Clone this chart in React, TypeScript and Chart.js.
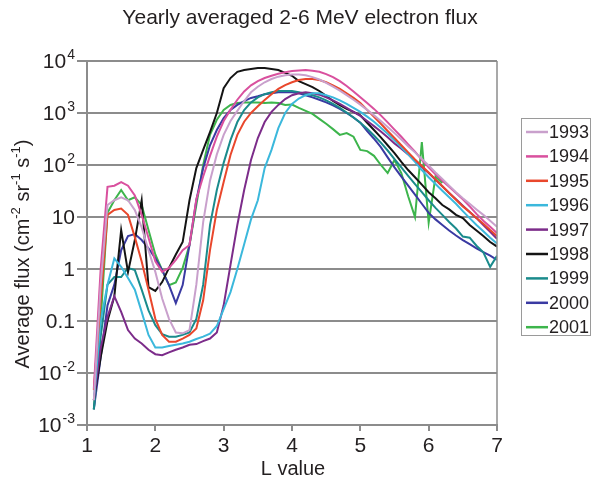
import React, { useEffect, useRef } from "react";
import { Chart, registerables } from "chart.js";

Chart.register(...registerables);

const TITLE = "Yearly averaged 2-6 MeV electron flux";
const X_TITLE = "L value";

const L_VALUES = [
  1.1, 1.2, 1.3, 1.4, 1.5, 1.6, 1.7, 1.8, 1.9, 2.0,
  2.1, 2.2, 2.3, 2.4, 2.5, 2.6, 2.7, 2.8, 2.9, 3.0,
  3.1, 3.2, 3.3, 3.4, 3.5, 3.6, 3.7, 3.8, 3.9, 4.0,
  4.1, 4.2, 4.3, 4.4, 4.5, 4.6, 4.7, 4.8, 4.9, 5.0,
  5.1, 5.2, 5.3, 5.4, 5.5, 5.6, 5.7, 5.8, 5.9, 6.0,
  6.1, 6.2, 6.3, 6.4, 6.5, 6.6, 6.7, 6.8, 6.9, 7.0,
];

const YEARS = ["1993", "1994", "1995", "1996", "1997", "1998", "1999", "2000", "2001"];
const COLORS = ["#c9a0cc", "#d9509e", "#e9472c", "#3bb8dc", "#7c2c8a", "#141414", "#1a8b8c", "#3a3aa2", "#3db54c"];

const FLUX_1993 = [
  0.003, 0.5, 17, 21, 24, 21, 13.6, 6.3, 2.3, 0.88,
  0.27, 0.11, 0.06, 0.058, 0.067, 0.5, 8, 50, 160, 380,
  700, 1100, 1700, 2500, 3200, 3900, 4500, 5000, 5300, 5500,
  5500, 5300, 4900, 4400, 3800, 3200, 2700, 2200, 1800, 1450,
  1150, 900, 700, 540, 410, 310, 230, 175, 130, 98,
  72, 54, 40, 30, 23, 18, 14, 11, 8.5, 6.5,
];
const FLUX_1994 = [
  0.005, 1.0, 38, 40, 47, 40, 26, 11, 4, 1.4,
  0.88, 1.05, 1.5, 2.3, 2.9, 22, 60, 150, 350, 700,
  1150, 1800, 2600, 3400, 4100, 4700, 5200, 5700, 6100, 6400,
  6600, 6700, 6500, 6200, 5600, 4900, 4100, 3300, 2600, 2000,
  1550, 1200, 900, 660, 480, 350, 250, 180, 125, 90,
  66, 50, 38, 29, 22, 16, 11.5, 8.5, 6.5, 4.9,
];
const FLUX_1995 = [
  0.0047, 0.25, 11, 13.6, 14.5, 11, 4.1, 1.4, 0.4, 0.11,
  0.054, 0.04, 0.04, 0.046, 0.054, 0.072, 0.25, 2.3, 13.6, 47,
  156, 380, 680, 1000, 1350, 1780, 2300, 2900, 3450, 3900,
  4300, 4500, 4500, 4300, 3900, 3400, 2900, 2400, 1950, 1550,
  1150, 850, 620, 450, 330, 240, 175, 128, 96, 72,
  53, 39, 29, 21.5, 16, 12.5, 9.6, 7.4, 5.6, 4.3,
];
const FLUX_1996 = [
  0.003, 0.1, 0.5, 1.6, 1.1, 0.67, 0.4, 0.15, 0.054, 0.031,
  0.031, 0.033, 0.035, 0.037, 0.04, 0.045, 0.05, 0.057, 0.08, 0.17,
  0.36, 1.0, 3.0, 9, 21, 87, 195, 510, 1000, 1500,
  1900, 2200, 2400, 2400, 2200, 2000, 1750, 1500, 1250, 1050,
  850, 680, 520, 400, 300, 220, 160, 115, 80, 58,
  43, 32, 24, 18, 13, 9.5, 7, 5.3, 4, 3.1,
];
const FLUX_1997 = [
  0.003, 0.03, 0.12, 0.3, 0.15, 0.067, 0.046, 0.037, 0.028, 0.023,
  0.022, 0.025, 0.028, 0.031, 0.035, 0.036, 0.041, 0.046, 0.06, 0.2,
  1.2, 7, 33, 125, 330, 670, 1050, 1430, 1850, 2200,
  2400, 2500, 2400, 2250, 2000, 1750, 1500, 1250, 1050, 880,
  700, 560, 440, 340, 260, 205, 160, 120, 92, 70,
  52, 39, 29, 22, 16.5, 12.5, 9.5, 7, 5.2, 3.8,
];
const FLUX_1998 = [
  0.003, 0.02, 0.1, 0.3, 5.6, 0.87, 3.6, 21, 0.45, 0.38,
  0.56, 1.05, 1.9, 3.3, 21, 87, 195, 430, 1000, 3000,
  4700, 6200, 6700, 7000, 7300, 7300, 7000, 6700, 5900, 5200,
  4100, 3600, 3150, 2650, 2130, 1700, 1420, 1200, 1050, 900,
  650, 470, 340, 240, 170, 115, 80, 58, 42, 30,
  23, 17, 14, 11, 9.5, 7, 5.5, 4.3, 3.3, 2.7,
];
const FLUX_1999 = [
  0.002, 0.05, 0.5, 0.7, 0.7, 1.05, 0.95, 0.4, 0.16, 0.083,
  0.056, 0.05, 0.05, 0.054, 0.06, 0.11, 0.5, 7, 33, 110,
  300, 670, 1140, 1600, 2000, 2300, 2500, 2650, 2650, 2650,
  2500, 2350, 2200, 2000, 1750, 1500, 1250, 1020, 820, 650,
  500, 370, 270, 190, 130, 90, 62, 43, 30, 21,
  15, 11, 8, 6, 4.2, 4.0, 2.8, 2.1, 1.1, 1.8,
];
const FLUX_2000 = [
  0.002, 0.02, 0.2, 0.5, 2.3, 4.3, 4.7, 3.6, 2.5, 1.6,
  0.95, 0.49, 0.22, 0.49, 2.9, 21, 87, 240, 470, 800,
  1140, 1430, 1700, 1950, 2100, 2300, 2400, 2500, 2500, 2500,
  2400, 2200, 2000, 1800, 1600, 1400, 1200, 1000, 820, 650,
  450, 320, 220, 140, 90, 60, 40, 27, 18, 12,
  9, 7, 5.5, 4.4, 3.6, 3, 2.5, 2.1, 1.8, 1.5,
];
const FLUX_2001 = [
  0.002, 0.1, 12, 21, 33, 21, 24, 17, 5.6, 1.9,
  0.95, 0.49, 0.55, 1.05, 2.9, 17, 100, 380, 740, 1140,
  1430, 1550, 1600, 1600, 1600, 1550, 1600, 1550, 1430, 1450,
  1250, 1100, 960, 770, 620, 490, 380, 410, 350, 195,
  185, 150, 100, 70, 125, 70, 25, 10, 275, 7.8,
  60, 45, null, null, null, null, null, null, null, null,
];

const SERIES = [FLUX_1993, FLUX_1994, FLUX_1995, FLUX_1996, FLUX_1997, FLUX_1998, FLUX_1999, FLUX_2000, FLUX_2001];

const X_TICKS = [1, 2, 3, 4, 5, 6, 7];
const Y_TICKS = [10000, 1000, 100, 10, 1, 0.1, 0.01, 0.001];
const Y_TICK_BASE = ["10", "10", "10", "10", "1", "0.1", "10", "10"];
const Y_TICK_SUP = ["4", "3", "2", "", "", "", "-2", "-3"];
const Y_TITLE_PARTS: [string, boolean][] = [
  ["Average flux (cm", false],
  ["-2", true],
  [" sr", false],
  ["-1", true],
  [" s", false],
  ["-1", true],
  [")", false],
];

const FONT = "'Liberation Sans', Arial, sans-serif";
const TEXT = "#231f20";
const GRID = "#8c8c8c";

const decorPlugin = {
  id: "decor",
  afterDraw(chart: any) {
    const ctx = chart.ctx as CanvasRenderingContext2D;
    const area = chart.chartArea;
    const yScale = chart.scales.y;
    ctx.save();
    // right border
    ctx.strokeStyle = GRID;
    ctx.lineWidth = 1.5;
    ctx.beginPath();
    ctx.moveTo(area.right, area.top);
    ctx.lineTo(area.right, area.bottom);
    ctx.stroke();

    ctx.fillStyle = TEXT;
    ctx.textBaseline = "middle";
    // title
    ctx.font = `21px ${FONT}`;
    ctx.textAlign = "center";
    ctx.fillText(TITLE, 300, 18);
    // x title
    ctx.font = `20px ${FONT}`;
    ctx.fillText(X_TITLE, 293, 469);

    // y tick labels
    ctx.textAlign = "left";
    Y_TICKS.forEach((v, i) => {
      const y = yScale.getPixelForValue(v);
      ctx.font = `21px ${FONT}`;
      const bw = ctx.measureText(Y_TICK_BASE[i]).width;
      ctx.font = `14px ${FONT}`;
      const sw = Y_TICK_SUP[i] ? ctx.measureText(Y_TICK_SUP[i]).width + 1 : 0;
      const right = 75;
      ctx.font = `21px ${FONT}`;
      ctx.fillText(Y_TICK_BASE[i], right - sw - bw, y + 1);
      if (Y_TICK_SUP[i]) {
        ctx.font = `14px ${FONT}`;
        ctx.fillText(Y_TICK_SUP[i], right - sw + 1, y - 6);
      }
    });

    // y title
    ctx.save();
    ctx.translate(22, 254);
    ctx.rotate(-Math.PI / 2);
    let total = 0;
    Y_TITLE_PARTS.forEach(([t, sup]) => {
      ctx.font = sup ? `13px ${FONT}` : `20px ${FONT}`;
      total += ctx.measureText(t).width;
    });
    let x = -total / 2;
    Y_TITLE_PARTS.forEach(([t, sup]) => {
      ctx.font = sup ? `13px ${FONT}` : `20px ${FONT}`;
      ctx.fillText(t, x, sup ? -6 : 1);
      x += ctx.measureText(t).width;
    });
    ctx.restore();

    // legend
    ctx.strokeStyle = "#9a9a9a";
    ctx.lineWidth = 1;
    ctx.strokeRect(521.5, 118.5, 69, 217);
    chart.data.datasets.forEach((ds: any, i: number) => {
      const y = 132 + i * 24.4;
      ctx.strokeStyle = ds.borderColor;
      ctx.lineWidth = 2.5;
      ctx.beginPath();
      ctx.moveTo(526, y);
      ctx.lineTo(548, y);
      ctx.stroke();
      ctx.fillStyle = TEXT;
      ctx.font = `18px ${FONT}`;
      ctx.fillText(ds.label, 549, y + 1);
    });
    ctx.restore();
  },
};

export default function App() {
  const ref = useRef<HTMLCanvasElement>(null);
  useEffect(() => {
    document.body.style.margin = "0";
    const canvas = ref.current!;
    const chart = new Chart(canvas, {
      type: "line",
      data: {
        datasets: YEARS.map((year, i) => ({
          label: year,
          data: L_VALUES.map((l, j) => ({ x: l, y: SERIES[i][j] })),
          borderColor: COLORS[i],
          backgroundColor: COLORS[i],
          borderWidth: 2,
          pointRadius: 0,
          tension: 0,
          fill: false,
          spanGaps: false,
        })),
      } as any,
      options: {
        responsive: false,
        animation: false,
        devicePixelRatio: 1,
        layout: { padding: { top: 61, right: 98, left: 0, bottom: 0 } },
        plugins: {
          legend: { display: false },
          title: { display: false },
          tooltip: { enabled: false },
        },
        scales: {
          x: {
            type: "linear",
            min: 1,
            max: 7,
            afterBuildTicks: (s: any) => {
              s.ticks = X_TICKS.map((v) => ({ value: v }));
            },
            afterFit: (s: any) => {
              s.height = 67;
            },
            grid: { drawOnChartArea: false, drawTicks: true, tickLength: 6, color: GRID, lineWidth: 2 },
            border: { color: GRID, width: 2 },
            ticks: { font: { size: 21, family: FONT }, color: TEXT, padding: 3, maxRotation: 0, autoSkip: false },
          },
          y: {
            type: "logarithmic",
            min: 0.001,
            max: 10000,
            afterBuildTicks: (s: any) => {
              s.ticks = Y_TICKS.map((v) => ({ value: v }));
            },
            afterFit: (s: any) => {
              s.width = 87;
            },
            grid: { color: GRID, lineWidth: 2, drawTicks: true, tickLength: 10 },
            border: { color: GRID, width: 2 },
            ticks: { callback: () => "", autoSkip: false },
          },
        },
      } as any,
      plugins: [decorPlugin],
    });
    return () => chart.destroy();
  }, []);
  return (
    <div style={{ width: 595, height: 492, overflow: "hidden" }}>
      <canvas ref={ref} width={595} height={492} style={{ display: "block" }} />
    </div>
  );
}
